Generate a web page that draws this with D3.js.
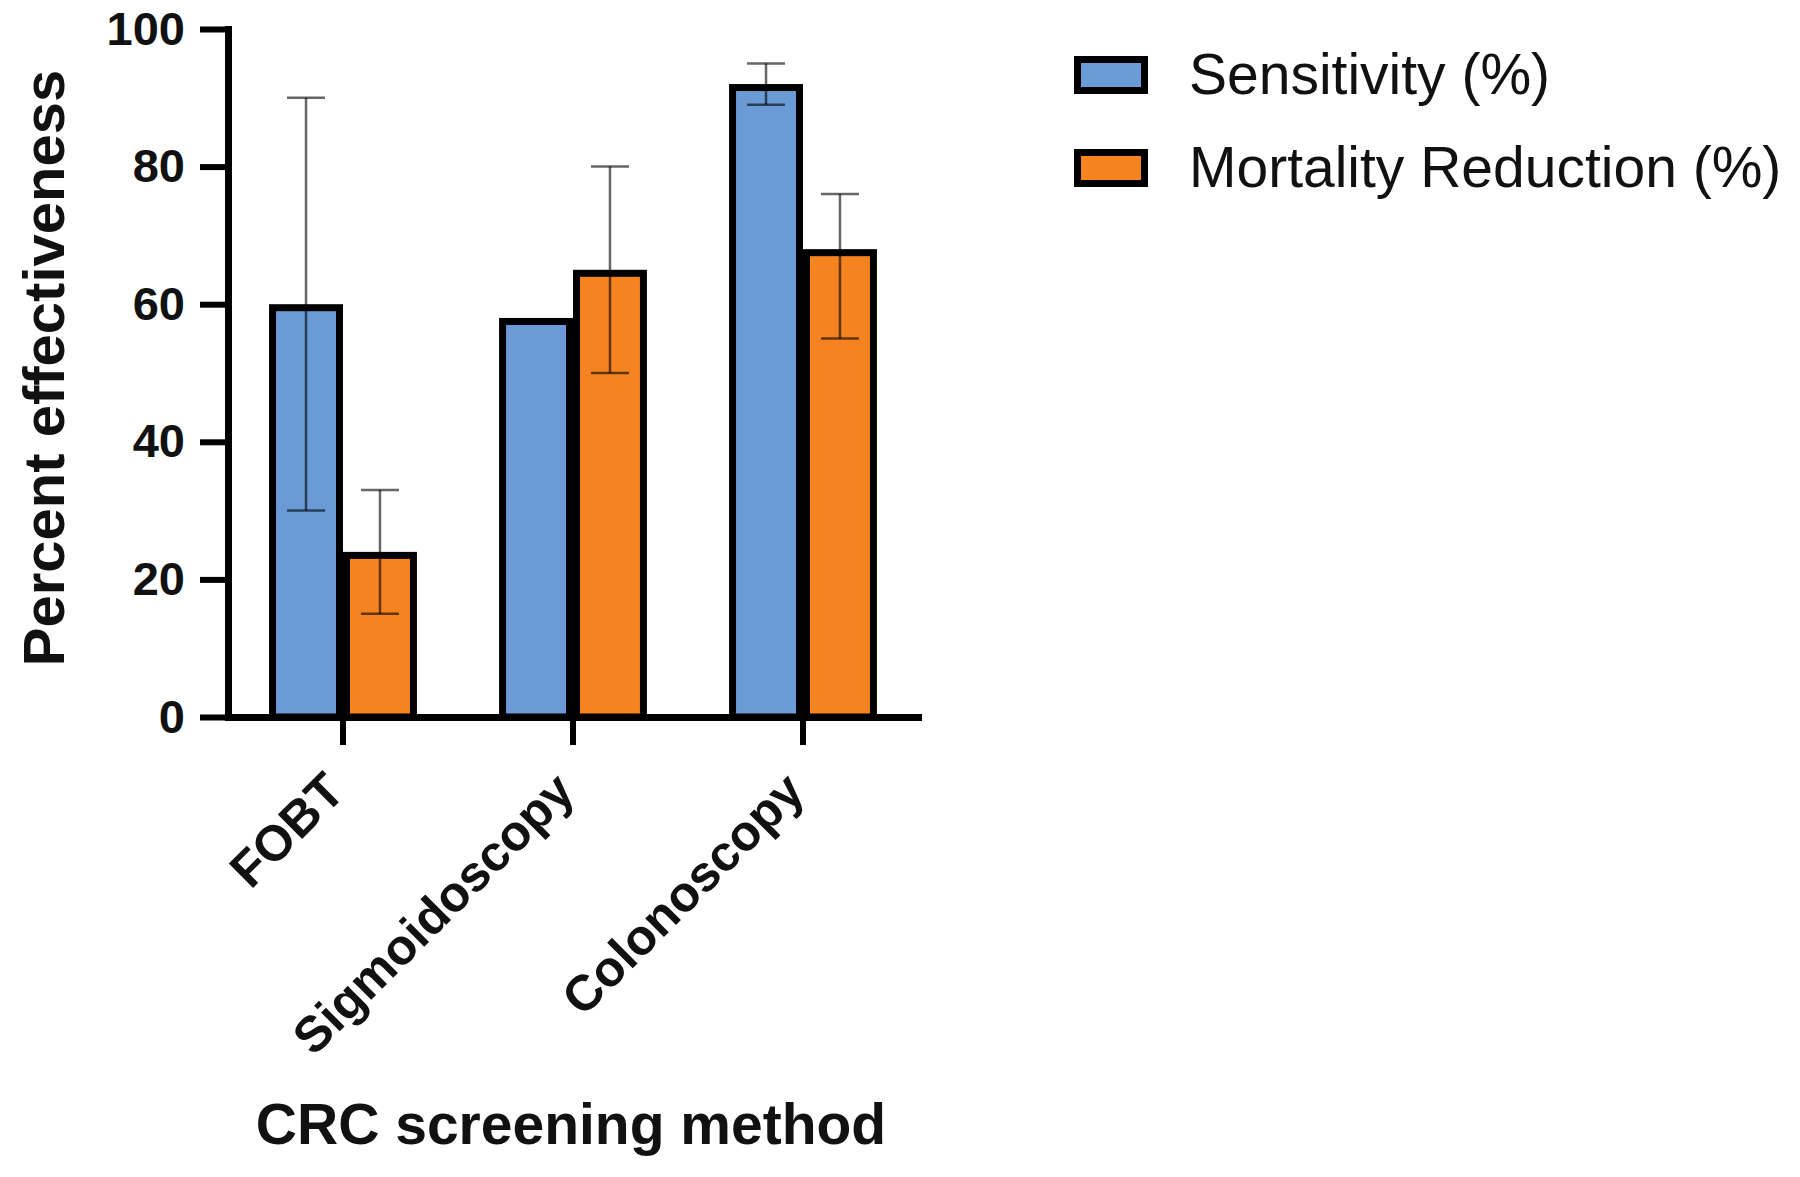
<!DOCTYPE html>
<html>
<head>
<meta charset="utf-8">
<script src="https://cdn.jsdelivr.net/npm/d3@7"></script>
<style>
  html, body { margin: 0; padding: 0; background: #fff; }
  text { font-family: "Liberation Sans", Arial, sans-serif; }
</style>
</head>
<body>
<div id="chart"></div>
<script>
// chart values
var categories      = ["FOBT", "Sigmoidoscopy", "Colonoscopy"];
var seriesNames     = ["Sensitivity (%)", "Mortality Reduction (%)"];
var sensitivity     = [60, 58, 92];
var sensitivityLow  = [30, null, 89];
var sensitivityHigh = [90, null, 95];
var mortality       = [24, 65, 68];
var mortalityLow    = [15, 50, 55];
var mortalityHigh   = [33, 80, 76];
var yTicks          = [0, 20, 40, 60, 80, 100];

var palette = ["#6a9bd6", "#f5831f"];
var sw      = 7;   // thick border of bars and axes

// one row per bar, built from the arrays above
var rows = [];
categories.forEach((c, i) => {
    rows.push({cat: c, series: seriesNames[0], value: sensitivity[i], lo: sensitivityLow[i], hi: sensitivityHigh[i]});
    rows.push({cat: c, series: seriesNames[1], value: mortality[i], lo: mortalityLow[i], hi: mortalityHigh[i]});
});

var svg = d3.select("#chart")
    .append("svg")
    .attr("width", 1800)
    .attr("height", 1177);

svg.append("rect").attr("width", 1800).attr("height", 1177).attr("fill", "#fff");

//scales
var x0 = d3.scaleBand()
    .domain(categories)
    .range([228, 918])
    .paddingInner(0.357)
    .paddingOuter(0.1785);

var x1 = d3.scaleBand()
    .domain(seriesNames)
    .range([0, x0.bandwidth()]);

var y = d3.scaleLinear()
    .domain([0, 100])
    .range([717, 29]);

var color = d3.scaleOrdinal(seriesNames, palette);

// bars, border kept inside the bar outline
svg.append("g").selectAll("rect")
    .data(rows)
    .enter()
    .append("rect")
    .attr("x", d => x0(d.cat) + x1(d.series) + sw / 2)
    .attr("y", d => y(d.value) + sw / 2)
    .attr("width", x1.bandwidth() - sw)
    .attr("height", d => y(0) - y(d.value) - sw / 2)
    .attr("fill", d => color(d.series))
    .attr("stroke", "#000")
    .attr("stroke-width", sw);

// error bars
var capW = 38;
var errs = svg.append("g")
    .selectAll("g")
    .data(rows.filter(d => d.lo != null))
    .enter()
    .append("g")
    .attr("stroke", "#000")
    .attr("stroke-opacity", 0.6)
    .attr("stroke-width", 2.5);

var cx = d => x0(d.cat) + x1(d.series) + x1.bandwidth() / 2;

errs.append("line")
    .attr("x1", cx).attr("x2", cx)
    .attr("y1", d => y(d.lo)).attr("y2", d => y(d.hi));
errs.append("line")
    .attr("x1", d => cx(d) - capW / 2).attr("x2", d => cx(d) + capW / 2)
    .attr("y1", d => y(d.hi)).attr("y2", d => y(d.hi));
errs.append("line")
    .attr("x1", d => cx(d) - capW / 2).attr("x2", d => cx(d) + capW / 2)
    .attr("y1", d => y(d.lo)).attr("y2", d => y(d.lo));

// y axis
var yAxis = svg.append("g")
    .attr("transform", "translate(228,0)")
    .call(d3.axisLeft(y).tickValues(yTicks).tickSize(28).tickSizeOuter(0).tickPadding(15));

yAxis.select(".domain").attr("stroke-width", sw).attr("stroke-linecap", "square");
yAxis.selectAll(".tick line").attr("stroke-width", 6);
yAxis.selectAll(".tick text")
    .attr("font-size", 47)
    .attr("font-weight", "bold")
    .attr("font-family", "'Liberation Sans', Arial, sans-serif")
    .attr("fill", "#111");

// x axis
var xAxis = svg.append("g")
    .attr("transform", "translate(0,717)")
    .call(d3.axisBottom(x0).tickSize(28).tickSizeOuter(0));

xAxis.select(".domain").attr("stroke-width", sw).attr("stroke-linecap", "square");
xAxis.selectAll(".tick line").attr("stroke-width", 6);
xAxis.selectAll(".tick text").remove();

svg.append("g").selectAll("text")
    .data(categories)
    .enter()
    .append("text")
    .attr("transform", d => "translate(" + (x0(d) + x0.bandwidth() / 2 + 4) + ",794) rotate(-45)")
    .attr("text-anchor", "end")
    .attr("font-size", 50)
    .attr("font-weight", "bold")
    .attr("fill", "#111")
    .text(d => d);

// axis titles
svg.append("text")
    .attr("transform", "translate(64,368) rotate(-90)")
    .attr("text-anchor", "middle")
    .attr("font-size", 58)
    .attr("font-weight", "bold")
    .attr("fill", "#111")
    .text("Percent effectiveness");

svg.append("text")
    .attr("x", 571)
    .attr("y", 1144)
    .attr("text-anchor", "middle")
    .attr("font-size", 57)
    .attr("font-weight", "bold")
    .attr("fill", "#111")
    .text("CRC screening method");

// legend
var legend = svg.append("g")
    .selectAll("g")
    .data(seriesNames)
    .enter()
    .append("g")
    .attr("transform", (d, i) => "translate(1074," + (56 + i * 93) + ")");

legend.append("rect")
    .attr("x", sw / 2)
    .attr("y", sw / 2)
    .attr("width", 74 - sw)
    .attr("height", 38 - sw)
    .attr("fill", d => color(d))
    .attr("stroke", "#000")
    .attr("stroke-width", sw);

legend.append("text")
    .attr("x", 115)
    .attr("y", 38)
    .attr("font-size", 57)
    .attr("fill", "#111")
    .text(d => d);
</script>
</body>
</html>
